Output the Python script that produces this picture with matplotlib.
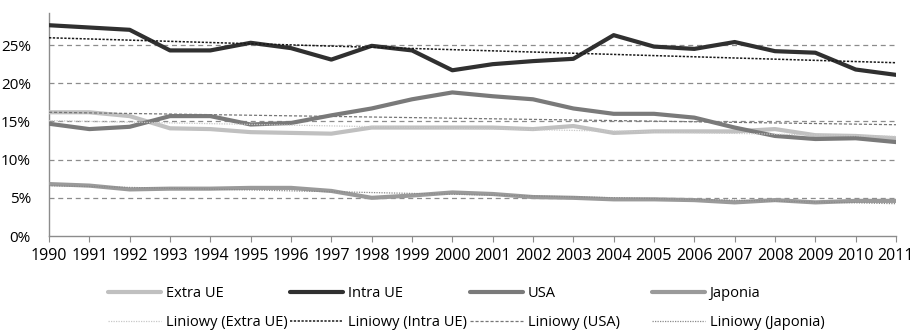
import numpy as np
import matplotlib
matplotlib.use("Agg")
import matplotlib.pyplot as plt
from matplotlib.ticker import PercentFormatter

years = list(range(1990, 2012))
extra_ue = [16.2, 16.2, 15.7, 14.1, 14.0, 13.6, 13.5, 13.4, 14.2, 14.2, 14.2,
            14.2, 14.0, 14.4, 13.5, 13.7, 13.7, 13.7, 14.0, 13.2, 13.1, 12.8]
intra_ue = [27.6, 27.3, 27.0, 24.3, 24.3, 25.3, 24.6, 23.1, 24.9, 24.3, 21.7,
            22.5, 22.9, 23.2, 26.3, 24.8, 24.5, 25.4, 24.2, 24.0, 21.8, 21.1]
usa = [14.7, 14.0, 14.3, 15.7, 15.7, 14.6, 14.8, 15.8, 16.7, 17.9, 18.8,
       18.3, 17.9, 16.7, 16.0, 16.0, 15.5, 14.2, 13.1, 12.7, 12.8, 12.3]
japonia = [6.8, 6.6, 6.1, 6.2, 6.2, 6.3, 6.3, 5.9, 5.0, 5.3, 5.7,
           5.5, 5.1, 5.0, 4.8, 4.8, 4.7, 4.4, 4.7, 4.4, 4.6, 4.6]
series_names = ["Extra UE", "Intra UE", "USA", "Japonia"]
trend_prefix = "Liniowy"
y_ticks = [0, 5, 10, 15, 20, 25]

plt.rcParams['font.family'] = ['Open Sans', 'DejaVu Sans']
FS = 10.5

fig = plt.figure(figsize=(9.13, 3.32), dpi=100)
ax = fig.add_axes([49/913, 1-236/332, (896-49)/913, (236-13)/332])

colors = ["#c0c0c0", "#303030", "#7a7a7a", "#9a9a9a"]
trend_styles = [
    dict(color="#c8c8c8", lw=0.9, ls=(0, (1, 1))),
    dict(color="#1a1a1a", lw=1.1, ls=(0, (1.5, 1))),
    dict(color="#777777", lw=0.9, ls=(0, (2.5, 1.5))),
    dict(color="#8a8a8a", lw=0.9, ls=(0, (1, 1))),
]
data = [extra_ue, intra_ue, usa, japonia]
x = np.array(years, dtype=float)

# gridlines
for t in y_ticks[1:]:
    ax.axhline(t, color="#8c8c8c", lw=0.9, ls=(0, (4, 3)), zorder=0)

main_handles = []
trend_handles = []
for vals, name, c in zip(data, series_names, colors):
    (h,) = ax.plot(x, vals, color=c, lw=3.0, solid_capstyle='round',
                   solid_joinstyle='round', zorder=3, label=name)
    main_handles.append(h)
for vals, name, ts in zip(data, series_names, trend_styles):
    p = np.polyfit(x, vals, 1)
    (t,) = ax.plot(x, np.polyval(p, x), zorder=4, label=f"{trend_prefix} ({name})", **ts)
    trend_handles.append(t)

ax.set_xlim(1990, 2011)
ax.set_ylim(0, 29.2)
ax.set_xticks(years)
ax.set_xticklabels([str(y) for y in years])
ax.set_yticks(y_ticks)
ax.yaxis.set_major_formatter(PercentFormatter(decimals=0))

for s in ["top", "right"]:
    ax.spines[s].set_visible(False)
ax.spines["left"].set_color("#8c8c8c")
ax.spines["bottom"].set_color("#8c8c8c")
ax.spines["left"].set_linewidth(1.0)
ax.spines["bottom"].set_linewidth(1.0)
ax.tick_params(axis='x', length=4, color="#8c8c8c", pad=5, labelsize=11.5, labelcolor="#000000")
ax.tick_params(axis='y', length=0, pad=13, labelsize=11, labelcolor="#000000")

# legends: 4 uniform columns
col_x = [108, 290, 470, 652]
for i in range(4):
    fig.legend([main_handles[i], trend_handles[i]],
               [main_handles[i].get_label(), trend_handles[i].get_label()],
               loc='center left', bbox_to_anchor=(col_x[i]/913, 1-308/332),
               frameon=False, fontsize=FS, handlelength=3.6, handletextpad=0.35,
               borderpad=0, borderaxespad=0, labelspacing=1.0)

fig.savefig("out.png", dpi=100)
